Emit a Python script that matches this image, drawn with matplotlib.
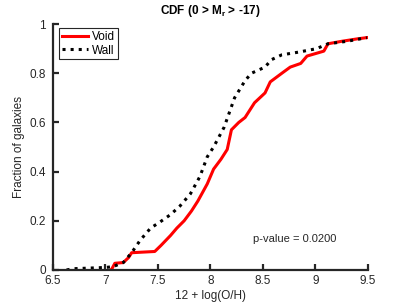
import matplotlib
matplotlib.use('agg')
import matplotlib.pyplot as plt
from matplotlib.ticker import FuncFormatter

plt.rcParams['font.family'] = ['Liberation Sans', 'DejaVu Sans']
plt.rcParams['mathtext.fontset'] = 'custom'
plt.rcParams['mathtext.bf'] = 'Liberation Sans:bold'
plt.rcParams['mathtext.rm'] = 'Liberation Sans'

# значения (CDF)
void_x = [7.05, 7.06, 7.09, 7.17, 7.22, 7.25, 7.47, 7.53, 7.62, 7.68, 7.75, 7.82, 7.88,
          7.97, 8.03, 8.10, 8.16, 8.20, 8.27, 8.33, 8.42, 8.52, 8.57, 8.68, 8.76, 8.86,
          8.92, 9.00, 9.08, 9.12, 9.25, 9.40, 9.49]
void_y = [0.0, 0.003, 0.027, 0.03, 0.05, 0.07, 0.075, 0.10, 0.14, 0.17, 0.20, 0.24, 0.28,
          0.35, 0.41, 0.45, 0.49, 0.57, 0.60, 0.62, 0.68, 0.72, 0.765, 0.80, 0.825, 0.84,
          0.87, 0.88, 0.89, 0.92, 0.93, 0.94, 0.945]

wall_x = [6.63, 6.70, 7.00, 7.07, 7.17, 7.25, 7.33, 7.43, 7.52, 7.62, 7.71, 7.81, 7.90,
          7.97, 8.03, 8.13, 8.23, 8.33, 8.39, 8.52, 8.58, 8.68, 8.84, 9.01, 9.12, 9.30,
          9.49]
wall_y = [0.0, 0.005, 0.01, 0.013, 0.03, 0.07, 0.12, 0.17, 0.195, 0.225, 0.26, 0.31, 0.38,
          0.46, 0.50, 0.58, 0.70, 0.77, 0.80, 0.825, 0.855, 0.875, 0.886, 0.90, 0.92, 0.93,
          0.945]

x_ticks = [6.5, 7, 7.5, 8, 8.5, 9, 9.5]
y_ticks = [0, 0.2, 0.4, 0.6, 0.8, 1]
p_value = 0.02

fig = plt.figure(figsize=(4.07, 3.05), dpi=100)
ax = fig.add_axes([0.130, 0.115, 0.774, 0.806])

ax.plot(void_x, void_y, color='red', lw=2.2, label='Void')
ax.plot(wall_x, wall_y, color='black', lw=2.2, ls=':', label='Wall')

ax.set_xlim(6.5, 9.5)
ax.set_ylim(0, 1)
ax.set_xticks(x_ticks)
ax.set_yticks(y_ticks)
fmt = FuncFormatter(lambda v, p: '%g' % v)
ax.xaxis.set_major_formatter(fmt)
ax.yaxis.set_major_formatter(fmt)

# оформление в стиле matlab
for s in ['top', 'right']:
    ax.spines[s].set_visible(False)
for s in ['left', 'bottom']:
    ax.spines[s].set_linewidth(1.6)
    ax.spines[s].set_color('#262626')
ax.tick_params(direction='in', length=4, width=1.6, colors='#262626', labelsize=8.5)
ax.tick_params(axis='x', pad=4)
ax.tick_params(axis='y', pad=5)

ax.set_xlabel('12 + log(O/H)', fontsize=8.5, color='#262626', labelpad=2)
ax.set_ylabel('Fraction of galaxies', fontsize=8.5, color='#262626', labelpad=3)
ax.set_title('CDF (0 > M$_\\mathbf{r}$ > -17)', fontsize=8.5, fontweight='bold', pad=7)

ax.text(8.41, 0.126, 'p-value = %.4f' % p_value, fontsize=8, va='center', ha='left',
        color='#262626')

leg = ax.legend(loc='upper left', bbox_to_anchor=(0.02, 0.985), fontsize=8.5,
                handlelength=2.2, handletextpad=0.3, borderpad=0.25, labelspacing=0.15,
                fancybox=False, framealpha=1, borderaxespad=0)
leg.get_frame().set_edgecolor('#262626')
leg.get_frame().set_linewidth(0.8)

plt.savefig('out.png', dpi=100)
